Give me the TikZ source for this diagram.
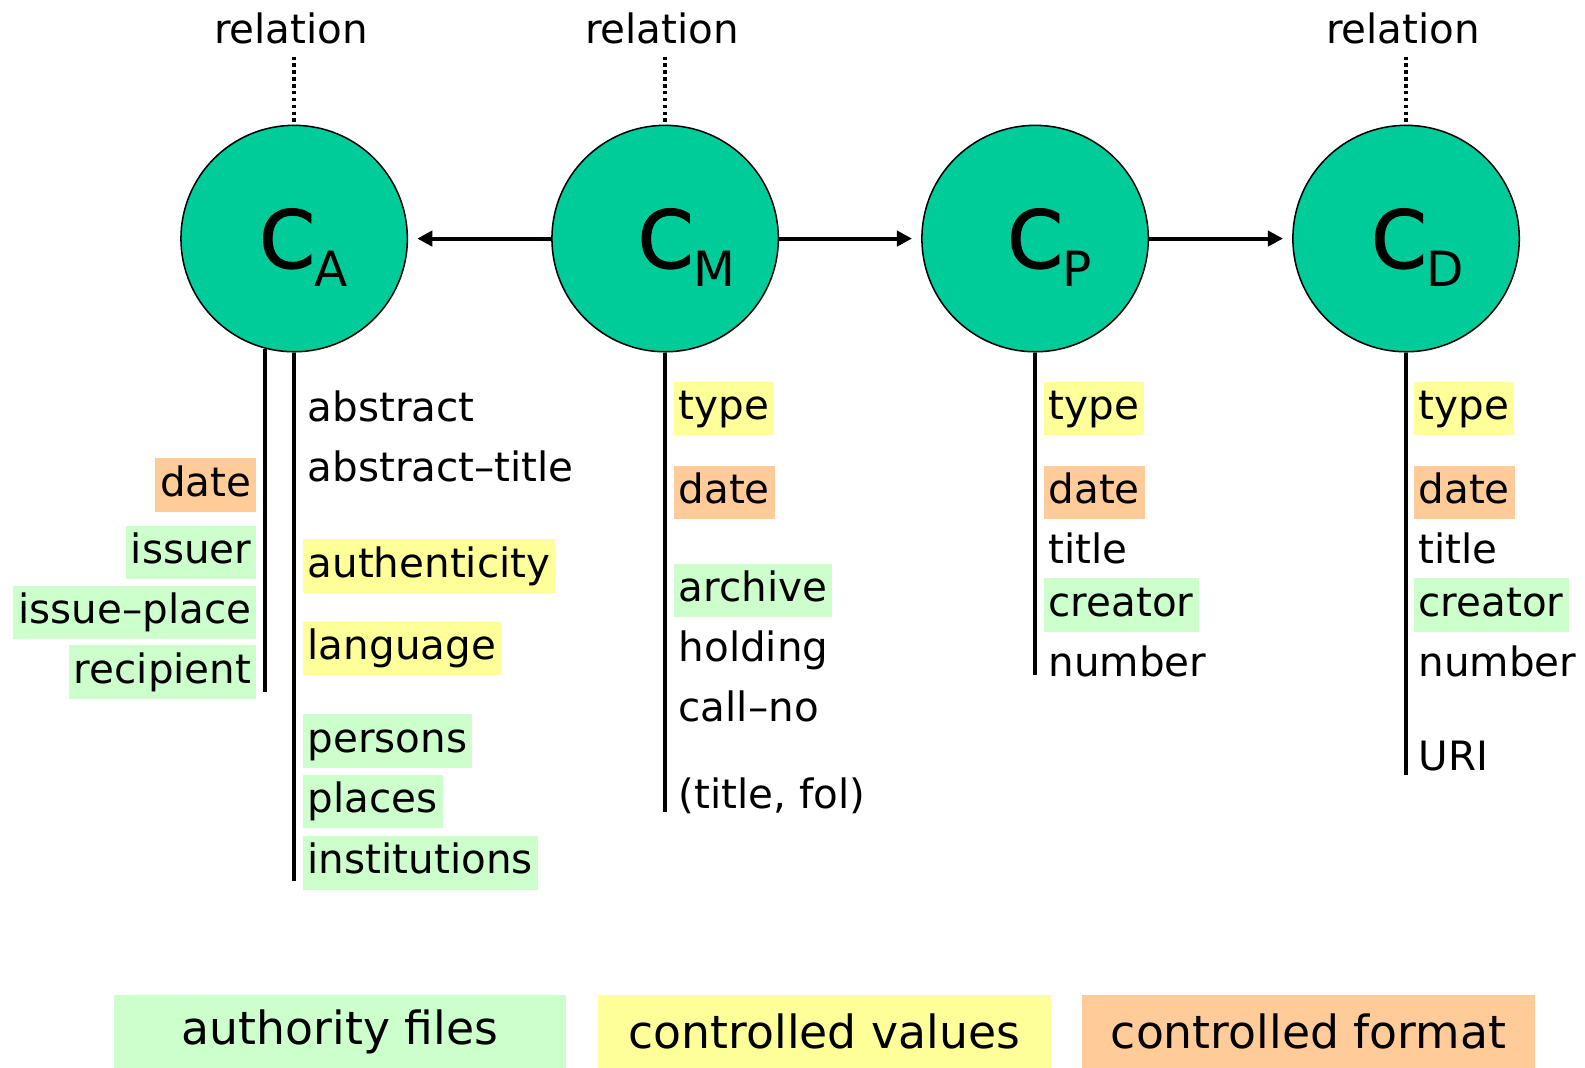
\documentclass[tikz,border=0pt]{standalone}
\usepackage{fontspec}
\setmainfont{DejaVu Sans}
\newfontfamily\cfont[FakeBold=1.6]{DejaVu Sans}
\usetikzlibrary{arrows.meta}
\definecolor{circfill}{HTML}{00CC99}
\definecolor{authg}{HTML}{CCFFCC}
\definecolor{ctrly}{HTML}{FFFF99}
\definecolor{fmto}{HTML}{FFCC99}
\newcommand{\cname}[1]{{\cfont\fontsize{39.5}{40}\selectfont C}\raisebox{-9pt}{\fontsize{24}{24}\selectfont #1}}
\begin{document}
\begin{tikzpicture}[x=0.5pt,y=-0.5pt,
  concept/.style={circle, draw=black, line width=0.75pt, fill=circfill, minimum size=112pt, inner sep=0pt},
  ctext/.style={anchor=base west, inner sep=0pt},
  lab/.style={font=\fontsize{20}{24}\selectfont, inner xsep=2.5pt, inner ysep=3.25pt, text height=15.5pt, text depth=4.5pt},
  labr/.style={lab, anchor=west},
  labl/.style={lab, anchor=east},
  af/.style={fill=authg}, cv/.style={fill=ctrly}, cf/.style={fill=fmto},
  rel/.style={font=\fontsize{20}{24}\selectfont, anchor=base, inner sep=0pt},
  stem/.style={line width=1.75pt},
  dots/.style={line width=1.75pt, dash pattern=on 1.7pt off 1.7pt},
  link/.style={line width=2pt, -{Triangle[length=7.5pt,width=7.5pt]}, shorten >=4.5pt},
  legend/.style={minimum width=224pt, minimum height=36pt, font=\fontsize{22.6}{26}\selectfont, inner sep=0pt, anchor=north west}
]
\useasboundingbox (0,0) rectangle (1568,1056);

% concept circles
\node[concept] (ca) at (291,236) {};
\node[concept] (cm) at (658,236) {};
\node[concept] (cp) at (1024,236) {};
\node[concept] (cd) at (1391,236) {};
\node[ctext] (ca-t) at (256,265) {\cname{A}};
\node[ctext] (cm-t) at (630.5,265) {\cname{M}};
\node[ctext] (cp-t) at (996,265) {\cname{P}};
\node[ctext] (cd-t) at (1356,265) {\cname{D}};

% relations
\node[rel] (ra) at (288,43) {relation};
\node[rel] (rm) at (655,43) {relation};
\node[rel] (rd) at (1388,43) {relation};
\coordinate (ra-d) at (291,56);
\coordinate (rm-d) at (658,56);
\coordinate (rd-d) at (1391,56);
\draw[dots] (ra-d) -- (ca.north);
\draw[dots] (rm-d) -- (cm.north);
\draw[dots] (rd-d) -- (cd.north);

% arrows
\draw[link] (cm.west) -- (ca.east);
\draw[link] (cm.east) -- (cp.west);
\draw[link] (cp.east) -- (cd.west);

% stems
\coordinate (ca-e) at (291,872);
\coordinate (ca-le) at (262,685);
\coordinate (cm-e) at (658,803);
\coordinate (cp-e) at (1024,668);
\coordinate (cd-e) at (1391,767);
\draw[stem] (ca.south) -- (ca-e);
\draw[stem] (ca-le |- ca.255) -- (ca-le);
\draw[stem] (cm.south) -- (cm-e);
\draw[stem] (cp.south) -- (cp-e);
\draw[stem] (cd.south) -- (cd-e);

% C_A right
\node[labr] (ca-abs) at (299,406) {abstract};
\node[labr] (ca-abt) at (299,465) {abstract–title};
\node[labr,cv] (ca-aut) at (299,560) {authenticity};
\node[labr,cv] (ca-lan) at (299,641.5) {language};
\node[labr,af] (ca-per) at (299,733) {persons};
\node[labr,af] (ca-pla) at (299,793) {places};
\node[labr,af] (ca-ins) at (299,853.5) {institutions};
% C_A left
\node[labl,cf] (ca-dat) at (254,480) {date};
\node[labl,af] (ca-iss) at (254,546.5) {issuer};
\node[labl,af] (ca-ipl) at (254,606) {issue–place};
\node[labl,af] (ca-rec) at (254,665) {recipient};

% C_M
\node[labr,cv] (cm-typ) at (666,404) {type};
\node[labr,cf] (cm-dat) at (666,487) {date};
\node[labr,af] (cm-arc) at (666,584) {archive};
\node[labr] (cm-hol) at (666,643) {holding};
\node[labr] (cm-cal) at (666,703) {call–no};
\node[labr] (cm-tit) at (666,789) {(title, fol)};

% C_P
\node[labr,cv] (cp-typ) at (1032,404) {type};
\node[labr,cf] (cp-dat) at (1032,487) {date};
\node[labr] (cp-tit) at (1032,546) {title};
\node[labr,af] (cp-cre) at (1032,598.5) {creator};
\node[labr] (cp-num) at (1032,658) {number};

% C_D
\node[labr,cv] (cd-typ) at (1398,404) {type};
\node[labr,cf] (cd-dat) at (1398,487) {date};
\node[labr] (cd-tit) at (1398,546) {title};
\node[labr,af] (cd-cre) at (1398,598.5) {creator};
\node[labr] (cd-num) at (1398,658) {number};
\node[labr] (cd-uri) at (1398,751) {URI};

% legend
\node[legend, fill=authg] (lg-a) at (112,984) {authority files};
\node[legend, fill=ctrly] (lg-v) at (591,984) {controlled values};
\node[legend, fill=fmto] (lg-f) at (1070,984) {controlled format};
\end{tikzpicture}
\end{document}
